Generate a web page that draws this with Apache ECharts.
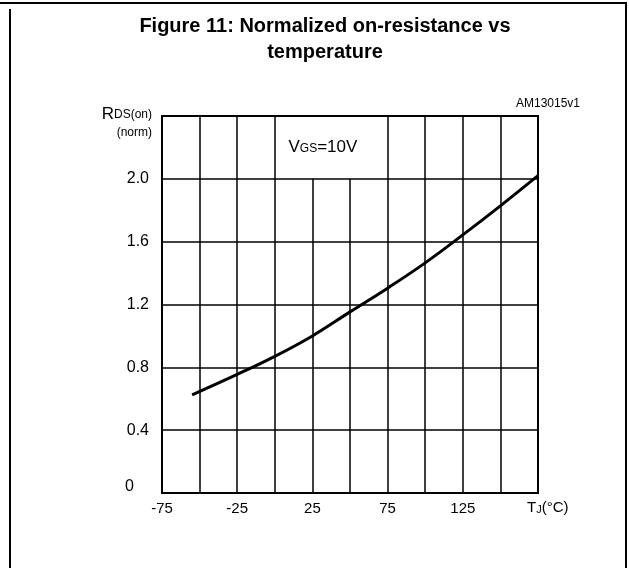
<!DOCTYPE html>
<html>
<head>
<meta charset="utf-8">
<script src="https://cdn.jsdelivr.net/npm/echarts@6/dist/echarts.min.js"></script>
<style>
html,body{margin:0;padding:0;background:#fff;}
#chart{width:629px;height:568px;}
</style>
</head>
<body>
<div id="chart"></div>
<script>
// Data
var tempC = [-55, -25, 0, 25, 50, 75, 100, 125, 150, 175];
var rdsNorm = [0.625, 0.755, 0.87, 1.0, 1.153, 1.304, 1.465, 1.643, 1.828, 2.02];
var xLabelTicks = [-75, -25, 25, 75, 125];
var xGridFull = [-50, -25, 0, 75, 100, 125, 150];
var xGridShort = [25, 50];
var yTop = 2.4;
var yShortTop = 2.0;
var vgsLabelPos = [32, 2.2];

var FONT = '"Liberation Sans", Arial, sans-serif';
var chart = echarts.init(document.getElementById('chart'), null, {renderer: 'canvas'});

var gridLines = [];
xGridFull.forEach(function (x) {
  gridLines.push([{coord: [x, 0]}, {coord: [x, yTop]}]);
});
xGridShort.forEach(function (x) {
  gridLines.push([{coord: [x, 0]}, {coord: [x, yShortTop]}]);
});

var option = {
  animation: false,
  backgroundColor: '#fff',
  textStyle: {fontFamily: FONT},
  title: [{
    text: 'Figure 11: Normalized on-resistance vs\ntemperature',
    left: 320,
    textAlign: 'center',
    top: 8,
    textStyle: {fontFamily: FONT, fontWeight: 'bold', fontSize: 20, lineHeight: 26, color: '#000'}
  }, {
    text: 'AM13015v1',
    right: 44,
    top: 93,
    textStyle: {fontFamily: FONT, fontWeight: 'normal', fontSize: 12, color: '#000'}
  }, {
    text: '{r|R}{s|DS(on)}\n{n|(norm)}',
    left: 147,
    textAlign: 'right',
    top: 96,
    textStyle: {
      fontFamily: FONT, color: '#000', fontWeight: 'normal',
      rich: {
        r: {fontSize: 17, fontFamily: FONT, color: '#000', lineHeight: 22, verticalAlign: 'bottom'},
        s: {fontSize: 12, fontFamily: FONT, color: '#000', lineHeight: 22, verticalAlign: 'bottom', padding: [0, 0, 2, 0]},
        n: {fontSize: 12, fontFamily: FONT, color: '#000', lineHeight: 20, align: 'right'}
      }
    }
  }],
  graphic: [
    {type: 'line', shape: {x1: 0, y1: 3, x2: 627, y2: 3}, style: {stroke: '#000', lineWidth: 2}},
    {type: 'line', shape: {x1: 10, y1: 9, x2: 10, y2: 568}, style: {stroke: '#000', lineWidth: 2}},
    {type: 'line', shape: {x1: 626, y1: 3, x2: 626, y2: 568}, style: {stroke: '#000', lineWidth: 2}}
  ],
  grid: {
    left: 162, right: 91, top: 116, bottom: 75,
    show: true, borderColor: '#000', borderWidth: 2, backgroundColor: 'transparent'
  },
  xAxis: {
    type: 'value',
    min: -75, max: 175, interval: 25,
    axisLine: {show: false},
    axisTick: {show: false},
    splitLine: {show: false},
    axisLabel: {
      margin: 8,
      fontSize: 15,
      color: '#000',
      fontFamily: FONT,
      formatter: function (v) {
        return xLabelTicks.indexOf(v) >= 0 ? String(v) : '';
      }
    },
    name: 'T{s|J}(°C)',
    nameLocation: 'end',
    nameGap: -11,
    nameTextStyle: {
      fontSize: 15, color: '#000', fontFamily: FONT,
      align: 'left', verticalAlign: 'top', padding: [7, 0, 0, 0],
      rich: {s: {fontSize: 11, verticalAlign: 'bottom', fontFamily: FONT, color: '#000', padding: [3, 0, 0, 0]}}
    }
  },
  yAxis: {
    type: 'value',
    min: 0, max: 2.4, interval: 0.4,
    axisLine: {show: false},
    axisTick: {show: false},
    splitLine: {show: true, lineStyle: {color: '#000', width: 1.5}},
    axisLabel: {
      margin: 13,
      fontSize: 16,
      color: '#000',
      fontFamily: FONT,
      formatter: function (v) {
        if (Math.abs(v - yTop) < 1e-6) return '';
        if (v === 0) return '{z|0}';
        return v.toFixed(1);
      },
      rich: {z: {fontSize: 16, fontFamily: FONT, color: '#000', padding: [0, 15, 12, 0]}}
    }
  },
  series: [{
    type: 'line',
    data: tempC.map(function (t, i) { return [t, rdsNorm[i]]; }),
    smooth: 0.4,
    symbol: 'none',
    lineStyle: {color: '#000', width: 3},
    z: 5,
    markLine: {
      silent: true,
      symbol: ['none', 'none'],
      label: {show: false},
      lineStyle: {color: '#000', width: 1.5, type: 'solid'},
      data: gridLines
    },
    markPoint: {
      silent: true,
      symbol: 'rect',
      symbolSize: 1,
      itemStyle: {color: 'rgba(0,0,0,0)'},
      label: {
        show: true,
        position: 'inside',
        formatter: 'V{s|GS}=10V',
        fontSize: 17,
        color: '#000',
        fontFamily: FONT,
        rich: {s: {fontSize: 12, fontFamily: FONT, color: '#000', verticalAlign: 'bottom', padding: [0, 0, 1, 0]}}
      },
      data: [{coord: vgsLabelPos}]
    }
  }]
};
chart.setOption(option);
</script>
</body>
</html>
